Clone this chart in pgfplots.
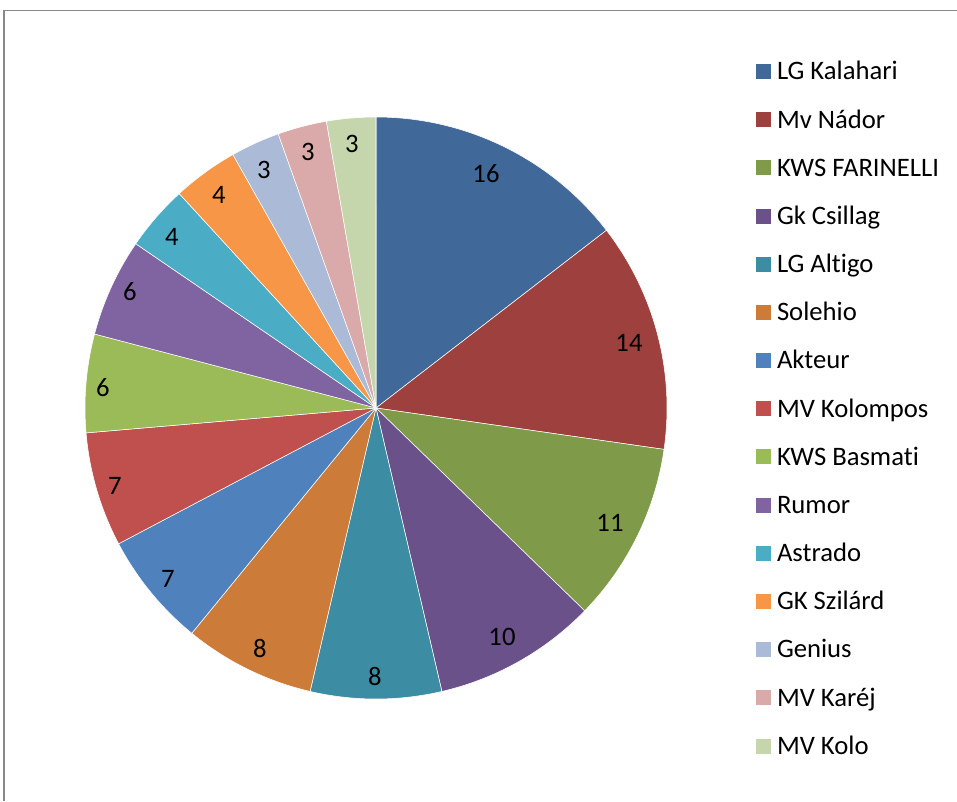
\documentclass[border=0pt]{standalone}
\usepackage{fontspec}
\setmainfont{Carlito}[Ligatures=NoCommon]
\usepackage{pgfplots}
\pgfplotsset{compat=1.18}

\definecolor{c1}{RGB}{64,105,154}
\definecolor{c2}{RGB}{158,65,62}
\definecolor{c3}{RGB}{127,154,72}
\definecolor{c4}{RGB}{106,81,137}
\definecolor{c5}{RGB}{60,141,163}
\definecolor{c6}{RGB}{204,123,56}
\definecolor{c7}{RGB}{79,129,189}
\definecolor{c8}{RGB}{192,80,77}
\definecolor{c9}{RGB}{155,187,89}
\definecolor{c10}{RGB}{128,100,162}
\definecolor{c11}{RGB}{75,172,198}
\definecolor{c12}{RGB}{247,150,70}
\definecolor{c13}{RGB}{170,186,215}
\definecolor{c14}{RGB}{217,170,169}
\definecolor{c15}{RGB}{198,214,172}
\definecolor{framegray}{RGB}{136,136,136}

% slice: #1 = sum of previous values, #2 = value, #3 = colour (total 110)
\newcommand\slice[3]{%
  \addplot [fill=#3, draw=white, line width=0.4pt, samples=60,
    domain={90-(#1+#2)*360/110}:{90-#1*360/110}]
    ({376+291*cos(x)},{393+291*sin(x)}) -- (axis cs:376,393) -- cycle;}

\begin{document}
\begin{tikzpicture}
\begin{axis}[
  width=717.75pt, height=600.75pt, scale only axis,
  xmin=0, xmax=957, ymin=0, ymax=801,
  hide axis, clip=false,
  legend image code/.code={\fill[#1, draw=none] (0pt,-5pt) rectangle (11.25pt,6.25pt);},
  legend cell align=left,
  legend style={at={(axis cs:756,737)}, anchor=north west, draw=none, fill=none,
    inner sep=0pt, outer sep=0pt, row sep=24.26pt, column sep=4.5pt,
    font=\fontsize{20}{24}\selectfont,
    nodes={inner sep=0pt, text height=11.25pt, text depth=0pt}},
  legend entries={LG Kalahari, Mv Nádor, KWS FARINELLI, Gk Csillag, LG Altigo,
    Solehio, Akteur, MV Kolompos, KWS Basmati, Rumor, Astrado, GK Szilárd,
    Genius, MV Karéj, MV Kolo},
]
\slice{0}{16}{c1}
\slice{16}{14}{c2}
\slice{30}{11}{c3}
\slice{41}{10}{c4}
\slice{51}{8}{c5}
\slice{59}{8}{c6}
\slice{67}{7}{c7}
\slice{74}{7}{c8}
\slice{81}{6}{c9}
\slice{87}{6}{c10}
\slice{93}{4}{c11}
\slice{97}{4}{c12}
\slice{101}{3}{c13}
\slice{104}{3}{c14}
\slice{107}{3}{c15}

\begin{scope}[every node/.style={inner sep=0pt, font=\fontsize{20}{24}\selectfont}]
\node at (axis cs:486,627) {16};
\node at (axis cs:629,458) {14};
\node at (axis cs:610,278) {11};
\node at (axis cs:502,164) {10};
\node at (axis cs:375,125) {8};
\node at (axis cs:260,153) {8};
\node at (axis cs:168,222) {7};
\node at (axis cs:115,315) {7};
\node at (axis cs:103,413) {6};
\node at (axis cs:130,509) {6};
\node at (axis cs:172,564) {4};
\node at (axis cs:219,606) {4};
\node at (axis cs:264,631) {3};
\node at (axis cs:308,649) {3};
\node at (axis cs:352,657) {3};
\end{scope}

\draw [framegray, line width=1.1pt] (axis cs:4,0) -- (axis cs:4,790.3) -- (axis cs:957,790.3);
\end{axis}
\pgfresetboundingbox
\useasboundingbox (0,0) rectangle (717.75pt,600.75pt);
\end{tikzpicture}
\end{document}
